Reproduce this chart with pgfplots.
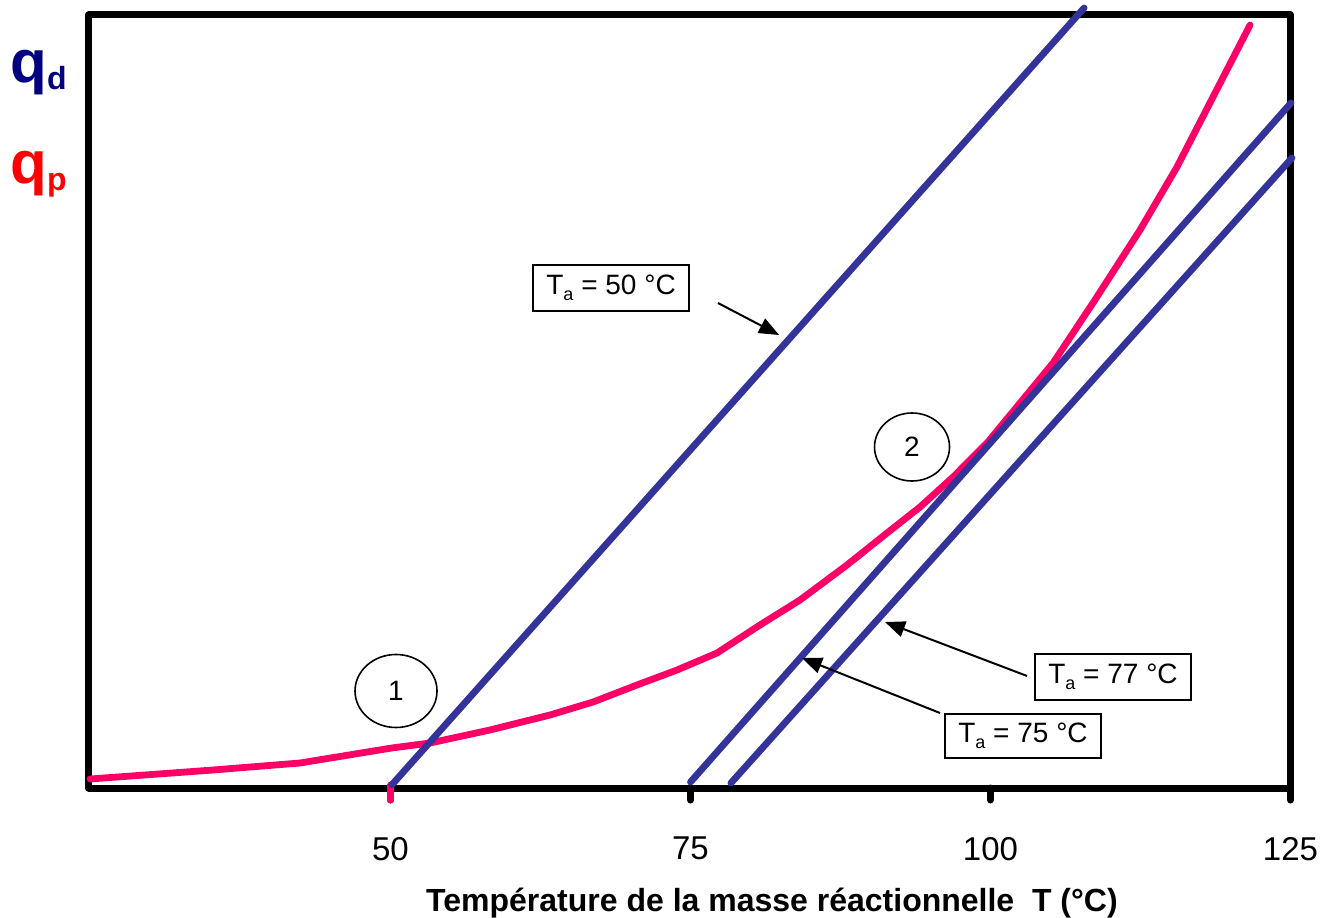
\documentclass[border=0pt]{standalone}
\usepackage{fontspec}
\setmainfont{Liberation Sans}
\usepackage{pgfplots}
\pgfplotsset{compat=1.18}
\usetikzlibrary{arrows.meta}

\definecolor{qdblue}{RGB}{0,0,128}
\definecolor{qpred}{RGB}{255,0,0}
\definecolor{curvered}{RGB}{255,0,102}
\definecolor{lineblue}{RGB}{51,51,153}

\newcommand{\Ta}[1]{T\raisebox{-3pt}{\fontsize{9}{9}\selectfont a} = #1~°C}

\begin{document}
\begin{tikzpicture}
\begin{axis}[
  at={(44.35pt,64pt)}, anchor=south west,
  scale only axis, width=600.9pt, height=386.5pt,
  xmin=24.85, xmax=125, ymin=0, ymax=773,
  axis line style={line width=3.5pt, line join=round},
  ytick=\empty, xtick={50,75,100,125},
  xtick pos=bottom,
  tick style={black, line width=3.5pt, line cap=round},
  tick align=outside, major tick length=6pt,
  clip=false,
  /pgf/number format/assume math mode=true,
  xticklabel style={font=\fontsize{16.5}{18}\selectfont, yshift=-15pt},
]
% heat production q_p
\addplot[curvered, line width=3.4pt, line cap=round, line join=round] coordinates {
  (24.96,9) (35.21,18) (42.46,25) (50.1,40) (53.29,45) (58.29,58) (63.29,73)
  (66.88,86) (70.54,103) (73.88,118) (77.21,135) (80.79,163) (84.13,188)
  (88.04,223) (91.38,255) (94.13,281) (96.88,311) (99.71,345) (102.46,385)
  (105.21,425) (108.54,485) (112.46,558) (115.54,621) (118.54,691) (121.63,763)
};
\addplot[curvered, line width=3.4pt, line cap=round] coordinates {(50,3) (50,-12)};
% heat removal q_d for three coolant temperatures
\addplot[lineblue, line width=3.4pt, line cap=round] coordinates {(50.1,3) (107.8,780)};
\addplot[lineblue, line width=3.4pt, line cap=round] coordinates {(75.0,6) (125.04,685)};
\addplot[lineblue, line width=3.4pt, line cap=round] coordinates {(78.37,5) (125.12,630)};

% labels
\node[draw, line width=1pt, minimum width=78pt, minimum height=23pt, inner sep=0pt,
      font=\fontsize{14}{16}\selectfont] at (axis cs:68.38,500) {\Ta{50}};
\node[draw, line width=1pt, minimum width=78pt, minimum height=23pt, inner sep=0pt,
      font=\fontsize{14}{16}\selectfont] at (axis cs:110.21,111) {\Ta{77}};
\node[draw, line width=1pt, minimum width=78pt, minimum height=22pt, inner sep=0pt,
      font=\fontsize{14}{16}\selectfont] at (axis cs:102.71,52) {\Ta{75}};
\draw[line width=1pt, -{Triangle[length=10pt,width=8pt]}] (axis cs:77.29,485) -- (axis cs:82.38,453);
\draw[line width=1pt, -{Triangle[length=10pt,width=8pt]}] (axis cs:103.05,112) -- (axis cs:91.21,166);
\draw[line width=1pt, -{Triangle[length=10pt,width=8pt]}] (axis cs:95.79,75) -- (axis cs:84.29,130);

\draw[line width=0.8pt] (axis cs:50.46,97) ellipse [x radius=20.5pt, y radius=18.25pt];
\node[font=\fontsize{14}{16}\selectfont] at (axis cs:50.46,97) {1};
\draw[line width=0.8pt] (axis cs:93.46,341) ellipse [x radius=18.75pt, y radius=17pt];
\node[font=\fontsize{14}{16}\selectfont] at (axis cs:93.46,341) {2};
\end{axis}

\node[anchor=base west, inner sep=0pt, text=qdblue, font=\bfseries\fontsize{30}{30}\selectfont]
  at (5pt,416.5pt) {q\raisebox{-3.5pt}{\fontsize{16}{16}\selectfont d}};
\node[anchor=base west, inner sep=0pt, text=qpred, font=\bfseries\fontsize{30}{30}\selectfont]
  at (5pt,366pt) {q\raisebox{-3.5pt}{\fontsize{16}{16}\selectfont p}};

\node[anchor=base, inner sep=0pt, font=\bfseries\fontsize{16}{18}\selectfont]
  at (386pt,2.5pt) {Température de la masse réactionnelle~~T (°C)};

\path[use as bounding box] (0,0) rectangle (670pt,458pt);
\end{tikzpicture}
\end{document}
